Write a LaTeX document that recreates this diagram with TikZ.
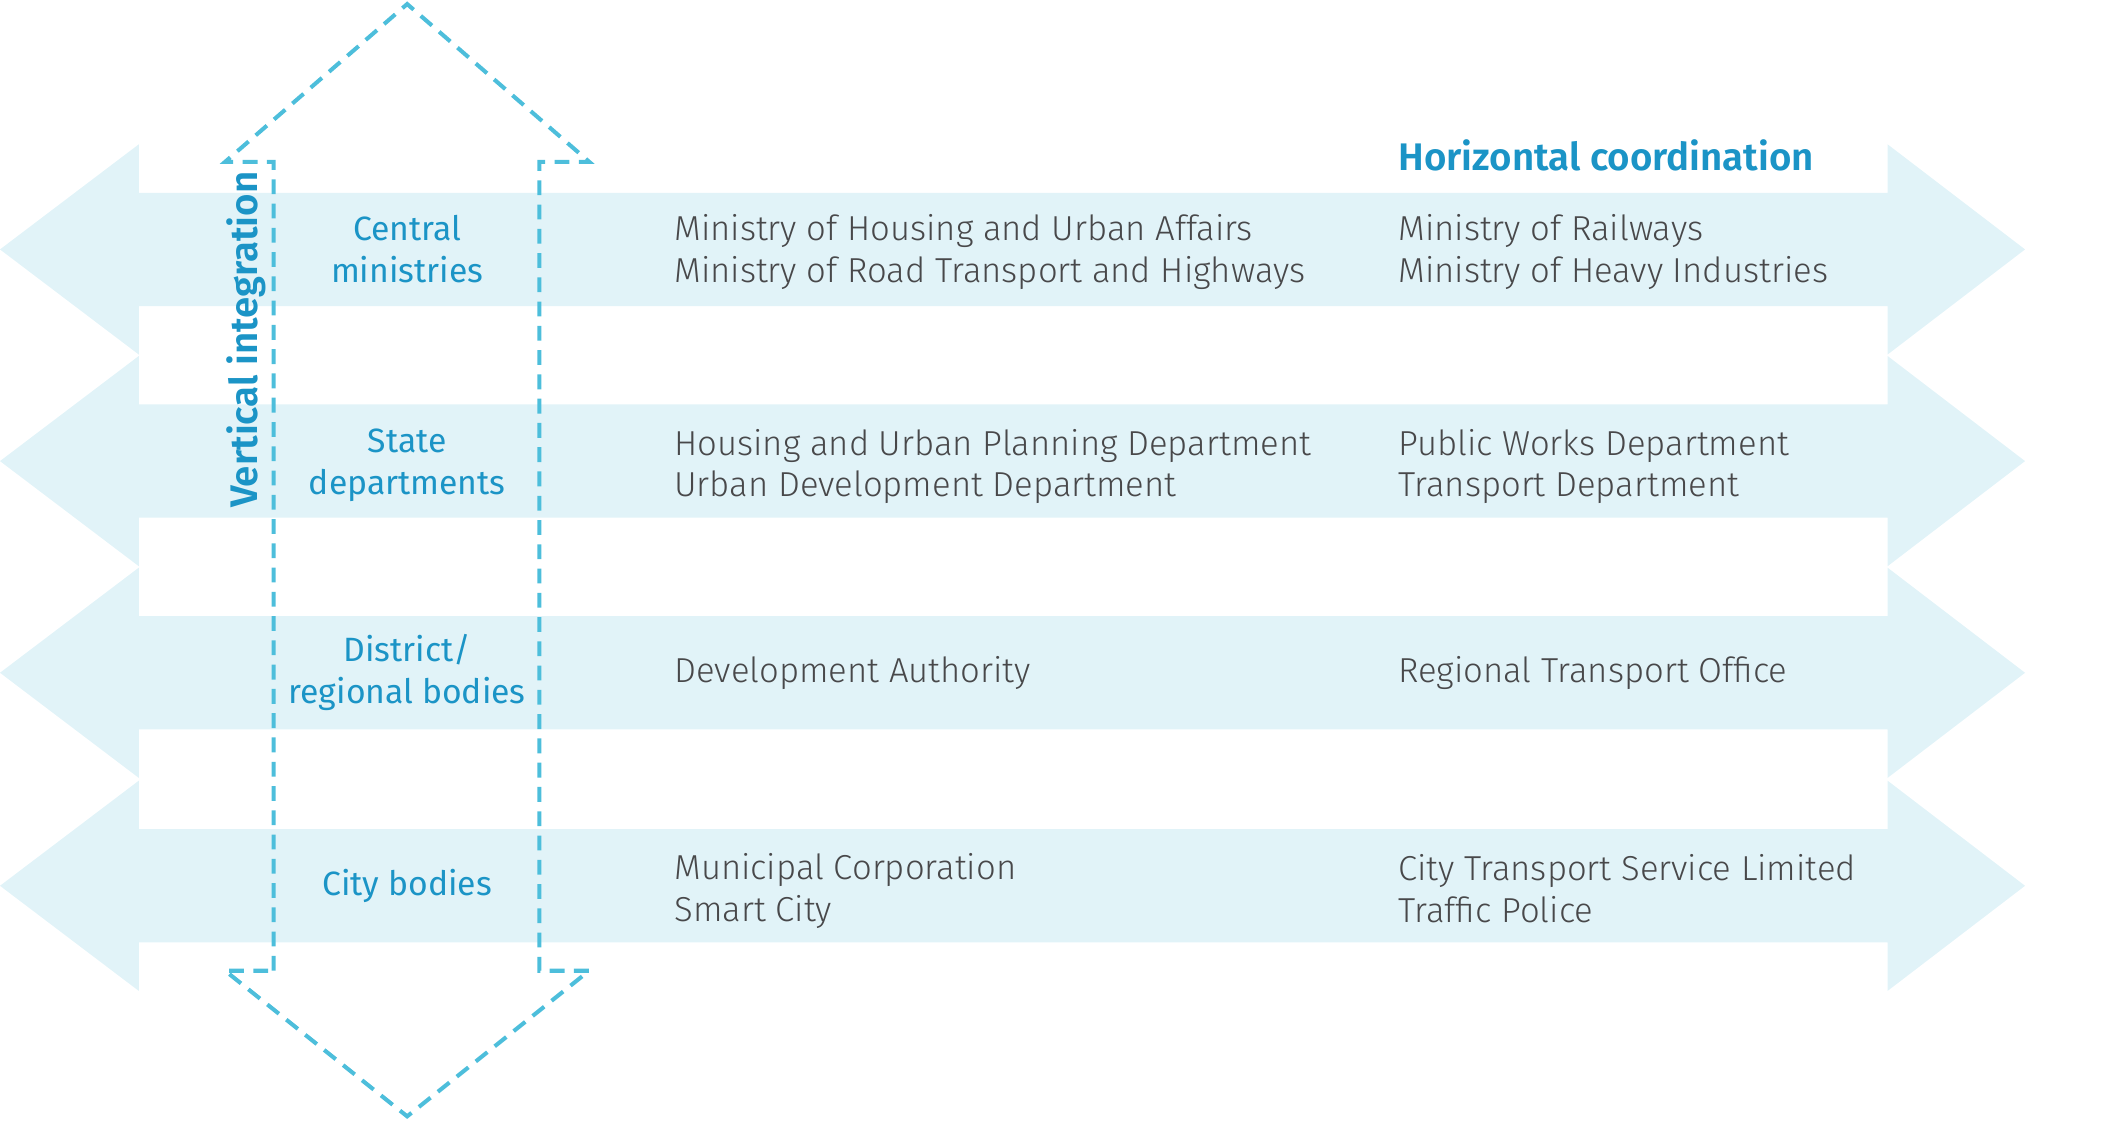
\documentclass[tikz,border=0pt]{standalone}
\usepackage{fontspec}
\setmainfont{Fira Sans Light}[BoldFont={Fira Sans SemiBold}]
\newfontfamily\levelfont{Fira Sans}
\definecolor{bandfill}{HTML}{E1F3F8}
\definecolor{dashblue}{HTML}{4DBEDB}
\definecolor{labelblue}{HTML}{1B94C6}
\definecolor{textgray}{HTML}{48484A}
\begin{document}
\begin{tikzpicture}[x=1pt,y=-1pt,
  band/.style={fill=bandfill,draw=none},
  vdash/.style={draw=dashblue,line width=3pt,dash pattern=on 11pt off 7pt,line join=miter},
  levellabel/.style={inner sep=0pt,align=center,anchor=center,text=labelblue,font=\levelfont\fontsize{25}{31}\selectfont},
  orgtext/.style={inner sep=0pt,align=left,anchor=west,text=textgray,font=\fontsize{25.7}{31}\selectfont},
  headtext/.style={inner sep=0pt,text=labelblue,font=\bfseries\fontsize{28.5}{30}\selectfont}]
\useasboundingbox (0,0) rectangle (1568,831);
% horizontal double arrows
\foreach \c in {185,342,499,657}{
  \path[band] (0,\c) -- (103,\c-78) -- (103,\c-42) -- (1400,\c-42) -- (1400,\c-78)
    -- (1502,\c) -- (1400,\c+78) -- (1400,\c+42) -- (103,\c+42) -- (103,\c+78) -- cycle;
}
% vertical dashed double arrow
\draw[vdash] (203,720) -- (203,120) -- (167,120) -- (302,3) -- (437,120) -- (400,120)
  -- (400,720) -- (437,720) -- (302,828) -- (167,720) -- cycle;
% texts
\node[headtext,anchor=center,rotate=90] (vi) at (183,252) {Vertical integration};
\node[headtext,anchor=west] (hc) at (1037,115) {Horizontal coordination};

\node[levellabel] (l1) at (302,185) {Central\\ministries};
\node[levellabel] (l2) at (302,345) {State\\departments};
\node[levellabel] (l3) at (302,499) {District/\\regional bodies};
\node[levellabel] (l4) at (302,657) {City bodies};

\node[orgtext] (m1) at (500,187) {Ministry of Housing and Urban Affairs\\Ministry of Road Transport and Highways};
\node[orgtext] (r1) at (1037,187) {Ministry of Railways\\Ministry of Heavy Industries};
\node[orgtext] (m2) at (500,346) {Housing and Urban Planning Department\\Urban Development Department};
\node[orgtext] (r2) at (1037,346) {Public Works Department\\Transport Department};
\node[orgtext] (m3) at (500,499) {Development Authority};
\node[orgtext] (r3) at (1037,499) {Regional Transport Office};
\node[orgtext] (m4) at (500,661) {Municipal Corporation\\Smart City};
\node[orgtext] (r4) at (1037,659) {City Transport Service Limited\\Traffic Police};
\end{tikzpicture}
\end{document}
